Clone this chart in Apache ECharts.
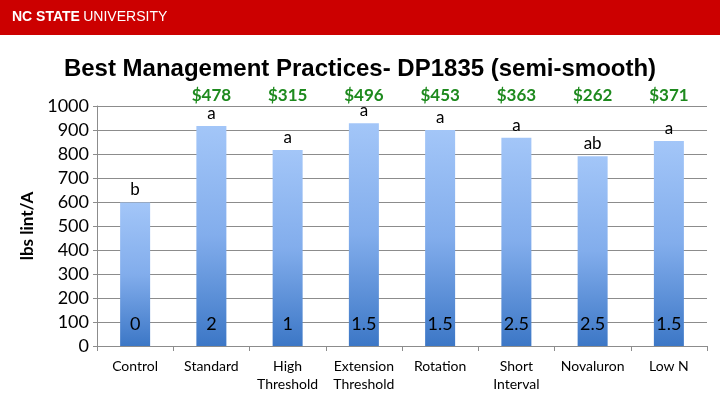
<!DOCTYPE html>
<html>
<head>
<meta charset="utf-8">
<title>Best Management Practices- DP1835 (semi-smooth)</title>
<style>
  html, body { margin: 0; padding: 0; background: #fff; }
  #chart { width: 720px; height: 405px; }
</style>
</head>
<body>
<div id="chart"></div>
<script src="https://cdn.jsdelivr.net/npm/echarts@6/dist/echarts.min.js"></script>
<script>
// data
var categories = ['Control', 'Standard', 'High\nThreshold', 'Extension\nThreshold', 'Rotation', 'Short\nInterval', 'Novaluron', 'Low N'];
var yields = [598, 917, 817, 928, 900, 868, 791, 854];
var letters = ['b', 'a', 'a', 'a', 'a', 'a', 'ab', 'a'];
var sprays = ['0', '2', '1', '1.5', '1.5', '2.5', '2.5', '1.5'];
var returns = ['', '$478', '$315', '$496', '$453', '$363', '$262', '$371'];
var yTicks = [0, 100, 200, 300, 400, 500, 600, 700, 800, 900, 1000];

var labelFont = 'Lato, "Open Sans", sans-serif';
var gridColor = '#8c8c8c';

var chart = echarts.init(document.getElementById('chart'));

var option = {
  animation: false,
  graphic: [
    { type: 'rect', left: 0, top: 0, shape: { width: 720, height: 35 }, style: { fill: '#cc0000' } },
    {
      type: 'text', left: 12, top: 10,
      style: {
        text: '{b|NC STATE} {n|UNIVERSITY}',
        rich: {
          b: { fill: '#fff', fontFamily: '"Liberation Sans", sans-serif', fontWeight: 'bold', fontSize: 14 },
          n: { fill: '#fff', fontFamily: '"Liberation Sans", sans-serif', fontSize: 14 }
        }
      }
    }
  ],
  title: {
    text: 'Best Management Practices- DP1835 (semi-smooth)',
    left: 'center',
    top: 52,
    textStyle: { fontFamily: '"Liberation Sans", Arial, sans-serif', fontWeight: 'bold', fontSize: 24, color: '#000' }
  },
  grid: { left: 97, right: 13, top: 106, bottom: 59 },
  xAxis: [{
    type: 'category',
    data: categories,
    axisLine: { lineStyle: { color: gridColor } },
    axisTick: { show: true, length: 5, lineStyle: { color: gridColor } },
    axisLabel: { color: '#000', fontFamily: labelFont, fontSize: 14, lineHeight: 18, margin: 11, interval: 0 }
  }, {
    type: 'category',
    position: 'top',
    data: returns,
    axisLine: { show: false },
    axisTick: { show: false },
    axisLabel: { color: '#1e8a1e', fontFamily: labelFont, fontWeight: 'bold', fontSize: 17, margin: 2, interval: 0 }
  }],
  yAxis: {
    type: 'value',
    min: yTicks[0],
    max: yTicks[yTicks.length - 1],
    interval: 100,
    name: 'lbs lint/A',
    nameLocation: 'middle',
    nameGap: 56,
    nameTextStyle: { color: '#000', fontFamily: labelFont, fontWeight: 'bold', fontSize: 17 },
    axisLine: { show: true, lineStyle: { color: gridColor } },
    axisTick: { show: true, length: 4, lineStyle: { color: gridColor } },
    axisLabel: { color: '#000', fontFamily: labelFont, fontSize: 18, margin: 8, formatter: function (v) { return String(v); } },
    splitLine: { lineStyle: { color: gridColor } }
  },
  series: [{
    type: 'bar',
    data: yields,
    barWidth: 30,
    itemStyle: {
      color: new echarts.graphic.LinearGradient(0, 0, 0, 1, [
        { offset: 0, color: '#a3c6f8' },
        { offset: 0.5, color: '#82adec' },
        { offset: 1, color: '#3c77c6' }
      ])
    },
    label: {
      show: true,
      position: 'top',
      distance: 4,
      color: '#000',
      fontFamily: labelFont,
      fontSize: 17,
      formatter: function (p) { return letters[p.dataIndex]; }
    }
  }, {
    type: 'bar',
    data: yields,
    barWidth: 30,
    barGap: '-100%',
    silent: true,
    itemStyle: { color: 'rgba(0,0,0,0)' },
    label: {
      show: true,
      position: 'insideBottom',
      distance: 13,
      color: '#000',
      fontFamily: labelFont,
      fontSize: 18,
      formatter: function (p) { return sprays[p.dataIndex]; }
    }
  }]
};

chart.setOption(option);
</script>
</body>
</html>
